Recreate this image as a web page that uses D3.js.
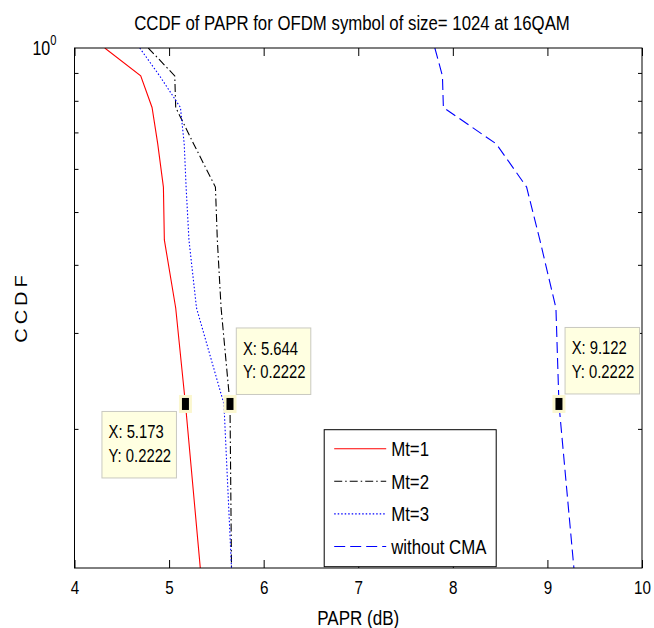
<!DOCTYPE html>
<html>
<head>
<meta charset="utf-8">
<script src="https://d3js.org/d3.v7.min.js"></script>
<style>
  body { margin: 0; background: #fff; }
  text { font-family: Arial, "Liberation Sans", sans-serif; fill: #000; }
</style>
</head>
<body>
<div id="chart"></div>
<script>
// Chart size
var svgWidth = 654;
var svgHeight = 628;

var margin = {
  top: 48,
  right: 12,
  bottom: 60,
  left: 74.5
};

var width = svgWidth - margin.left - margin.right;
var height = svgHeight - margin.top - margin.bottom;

// Data
// CCDF levels (y) shared by all curves
var ccdf = [1, 0.8889, 0.7778, 0.6667, 0.5556, 0.4444, 0.3333, 0.2222, 0.1111];
// PAPR (dB) for each curve, one value per CCDF level
var paprMt1 = [4.32, 4.70, 4.82, 4.88, 4.94, 4.95, 5.07, 5.173, 5.33];
var paprMt2 = [4.78, 5.06, 5.07, 5.26, 5.49, 5.51, 5.55, 5.644, 5.66];
var paprMt3 = [4.69, 4.90, 5.12, 5.16, 5.18, 5.21, 5.29, 5.58, 5.66];
var paprNoCma = [7.81, 7.89, 7.90, 8.46, 8.78, 8.92, 9.09, 9.122, 9.28];

var seriesNames = ["Mt=1", "Mt=2", "Mt=3", "without CMA"];
var xTicks = [4, 5, 6, 7, 8, 9, 10];
var yMinorTicks = [0.2, 0.3, 0.4, 0.5, 0.6, 0.7, 0.8, 0.9];

// data tips
var tipX = [5.173, 5.644, 9.122];
var tipY = [0.2222, 0.2222, 0.2222];

var titleText = "CCDF of PAPR for OFDM symbol of size= 1024 at 16QAM";

// squeeze factor so Arial looks like the tall narrow matlab font
var squeeze = 0.8;

var svg = d3.select("#chart")
  .append("svg")
  .attr("width", svgWidth)
  .attr("height", svgHeight);

var chartGroup = svg.append("g")
  .attr("transform", `translate(${margin.left}, ${margin.top})`);

var xScale = d3.scaleLinear()
  .domain([4, 10])
  .range([0, width]);

var yScale = d3.scaleLog()
  .domain([0.1111, 1])
  .range([height, 0]);

// clip the curves to the axes
svg.append("defs").append("clipPath")
  .attr("id", "plotClip")
  .append("rect")
  .attr("width", width)
  .attr("height", height);

// Curves
var styles = [
  { data: paprMt1, color: "#ff0000", dash: null },
  { data: paprMt2, color: "#000000", dash: "8,3,1.5,3" },
  { data: paprMt3, color: "#0000ff", dash: "1.5,2" },
  { data: paprNoCma, color: "#0000ff", dash: "11,5" }
];

var line = d3.line()
  .x(d => xScale(d[0]))
  .y(d => yScale(d[1]));

var curveGroup = chartGroup.append("g").attr("clip-path", "url(#plotClip)");

styles.forEach(function (s) {
  curveGroup.append("path")
    .datum(s.data.map((v, i) => [v, ccdf[i]]))
    .attr("d", line)
    .attr("fill", "none")
    .attr("stroke", s.color)
    .attr("stroke-width", 1.1)
    .attr("stroke-dasharray", s.dash);
});

// Axes
var bottomAxis = d3.axisBottom(xScale).tickValues(xTicks).tickFormat(d3.format("d"))
  .tickSizeInner(-8).tickSizeOuter(0);
var topAxis = d3.axisTop(xScale).tickValues(xTicks).tickSizeInner(-8).tickSizeOuter(0).tickFormat("");
var leftAxis = d3.axisLeft(yScale).tickValues(yMinorTicks).tickSizeInner(-4).tickSizeOuter(0).tickFormat("");
var rightAxis = d3.axisRight(yScale).tickValues(yMinorTicks).tickSizeInner(-4).tickSizeOuter(0).tickFormat("");

var xAxisG = chartGroup.append("g")
  .attr("transform", `translate(0, ${height})`)
  .call(bottomAxis);
chartGroup.append("g").call(topAxis);
chartGroup.append("g").call(leftAxis);
chartGroup.append("g").attr("transform", `translate(${width}, 0)`).call(rightAxis);

chartGroup.selectAll(".domain").remove();
chartGroup.selectAll(".tick line").attr("stroke", "#000");

xAxisG.selectAll("text")
  .attr("font-size", 19)
  .attr("font-family", "Arial, 'Liberation Sans', sans-serif")
  .attr("dy", null)
  .attr("y", 0)
  .attr("transform", `translate(0, 25.5) scale(${squeeze}, 1)`);

// axes box
chartGroup.append("rect")
  .attr("width", width)
  .attr("height", height)
  .attr("fill", "none")
  .attr("stroke", "#000")
  .attr("stroke-width", 1);

// 10^0 label at the top of y axis
var expLabel = svg.append("text")
  .attr("transform", `translate(${margin.left - 18}, ${margin.top + yScale(1) + 7}) scale(${squeeze}, 1)`)
  .attr("text-anchor", "end")
  .attr("font-size", 20);
expLabel.append("tspan").text("10");
expLabel.append("tspan").attr("font-size", 14).attr("dy", -10).text("0");

// text squeezed horizontally to a measured width
function fitText(x, y, size, w, txt) {
  var t = svg.append("text")
    .attr("text-anchor", "middle")
    .attr("font-size", size)
    .text(txt);
  var k = w / t.node().getComputedTextLength();
  t.attr("transform", `translate(${x}, ${y}) scale(${k}, 1)`);
  return t;
}

// Title and axis labels
fitText(352, 30, 21, 436, titleText);
fitText(margin.left + xScale(7), 625, 20, 82, "PAPR (dB)");

svg.append("text")
  .attr("transform", `translate(27, 307) rotate(-90) scale(1, ${squeeze})`)
  .attr("text-anchor", "middle")
  .attr("font-size", 20)
  .attr("letter-spacing", 4)
  .text("CCDF");

// Legend
var legend = chartGroup.append("g")
  .attr("transform", `translate(${xScale(6.64)}, ${yScale(0.1993)})`);

legend.append("rect")
  .attr("width", 172)
  .attr("height", 137)
  .attr("fill", "#fff")
  .attr("stroke", "#000")
  .attr("stroke-width", 1);

seriesNames.forEach(function (name, i) {
  var yy = 19 + i * 32.6;
  legend.append("line")
    .attr("x1", 10)
    .attr("x2", 62)
    .attr("y1", yy)
    .attr("y2", yy)
    .attr("stroke", styles[i].color)
    .attr("stroke-width", 1.1)
    .attr("stroke-dasharray", styles[i].dash);
  legend.append("text")
    .attr("transform", `translate(67, ${yy + 7.5}) scale(${squeeze}, 1)`)
    .attr("font-size", 21)
    .text(name);
});

// Data tips: marker plus yellow box
var tipOffset = [[-83.5, 7.5], [6.3, -76], [6.1, -76.5]];

tipX.forEach(function (tx, i) {
  var px = xScale(tx);
  var py = yScale(tipY[i]);
  var bx = px + tipOffset[i][0];
  var by = py + tipOffset[i][1];

  var box = chartGroup.append("g").attr("transform", `translate(${bx}, ${by})`);
  box.append("rect")
    .attr("width", 74.5)
    .attr("height", 66.5)
    .attr("fill", "#ffffe1")
    .attr("stroke", "#c9c9c0")
    .attr("stroke-width", 1);
  box.append("text")
    .attr("transform", `translate(6.6, 27) scale(0.78, 1)`)
    .attr("font-size", 19)
    .text("X: " + tx);
  box.append("text")
    .attr("transform", `translate(6.6, 50.5) scale(0.78, 1)`)
    .attr("font-size", 19)
    .text("Y: " + tipY[i]);

  chartGroup.append("rect")
    .attr("x", px - 5)
    .attr("y", py - 7.5)
    .attr("width", 10)
    .attr("height", 15)
    .attr("fill", "#000")
    .attr("stroke", "#fbf7cf")
    .attr("stroke-width", 3);
});
</script>
</body>
</html>
